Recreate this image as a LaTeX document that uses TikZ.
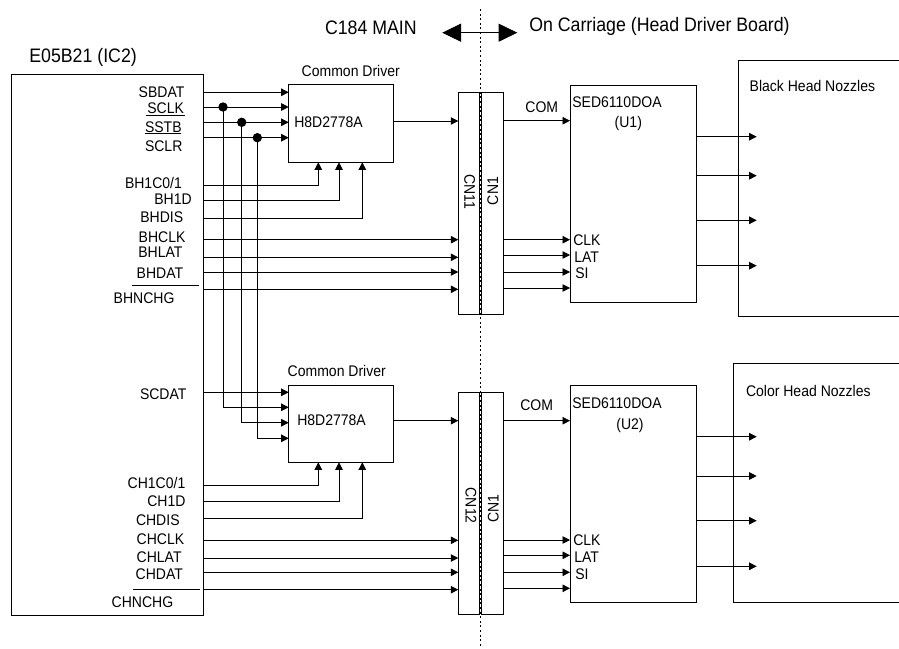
\documentclass[tikz,border=0pt]{standalone}
\usepackage{fontspec}
\setmainfont[FakeStretch=0.91]{Liberation Sans}
\usetikzlibrary{arrows.meta}
\newcommand{\smalltxt}{\fontsize{15.4}{17}\selectfont}
\newcommand{\bigtxt}{\fontsize{19.5}{22}\selectfont}
\begin{document}
\begin{tikzpicture}[x=1pt,y=-1pt,line width=0.8pt,
		box/.style={draw=black,minimum width=#1},
		sig/.style={-{Triangle[length=7.5pt,width=7.5pt]}},
		dot/.style={circle,fill=black,minimum size=9.4pt},
		lbl/.style={anchor=west,font=\smalltxt}]
	\tikzstyle{every node}+=[inner sep=0pt,outer sep=0pt]
	\useasboundingbox (0,0) rectangle (899,648);
	% boxes
	\node [box=192.2pt,minimum height=541.2pt] (ic) at (107.6,345.1) {};
	\node [box=105pt,minimum height=77.6pt] (drvA) at (341.2,123.5) {};
	\node [box=105pt,minimum height=77pt] (drvB) at (341.2,423.8) {};
	\node [box=21.5pt,minimum height=221.7pt] (cnAl) at (469,203.1) {};
	\node [box=22pt,minimum height=221.7pt] (cnAr) at (492,203.1) {};
	\node [box=21.5pt,minimum height=221.7pt] (cnBl) at (469,503.1) {};
	\node [box=22pt,minimum height=221.7pt] (cnBr) at (492,503.1) {};
	\node [box=126pt,minimum height=217.3pt] (uA) at (633,193.6) {};
	\node [box=126pt,minimum height=217.3pt] (uB) at (633,493.6) {};
	% heads are open on the right
	\coordinate (headAtl) at (738.7,60.7);
	\coordinate (headAbl) at (738.7,316.3);
	\coordinate (headBtl) at (733,363.3);
	\coordinate (headBbl) at (733,602.3);
	\draw (headAtl -| 899,0) -- (headAtl) -- (headAbl) -- (headAbl -| 899,0);
	\draw (headBtl -| 899,0) -- (headBtl) -- (headBbl) -- (headBbl -| 899,0);
	% board boundary
	\coordinate (bndtop) at (480.3,9);
	\coordinate (bndbot) at (480.3,648);
	\draw [line width=1.1pt,dash pattern=on 2pt off 2.6pt] (bndtop) -- (bndbot);
	\coordinate (bndl) at (442.3,32.7);
	\coordinate (bndr) at (517.3,32.7);
	\draw [{Triangle[length=18.7pt,width=18pt]}-{Triangle[length=18.7pt,width=18pt]}] (bndl) -- (bndr);
	% big texts
	\node [anchor=west,font=\bigtxt] (ictxt) at (29.3,57.3) {E05B21 (IC2)};
	\node [anchor=west,font=\bigtxt] (maintxt) at (325,28) {C184 MAIN};
	\node [anchor=west,font=\bigtxt] (cartxt) at (529.3,26) {On Carriage (Head Driver Board)};
	% pin names
	\foreach \name/\xpos/\ypos/\txt in {
			sbdat/138.7/91.7/SBDAT, sclk/147.3/107.7/SCLK, sstb/145/126.7/SSTB, sclr/145/145.7/SCLR,
			bhc/125/182.7/{BH1C0/1}, bhd/154.3/198.7/BH1D, bhdis/140.3/216.7/BHDIS,
			bhclk/138.7/236.7/BHCLK, bhlat/138.3/251.7/BHLAT, bhdat/136.7/272.7/BHDAT, bhnchg/113.7/297.7/BHNCHG,
			scdat/140/393.7/SCDAT,
			chc/127.7/482.7/{CH1C0/1}, chd/147.3/500.7/CH1D, chdis/136/519.7/CHDIS,
			chclk/136.7/538.7/CHCLK, chlat/136.7/556.7/CHLAT, chdat/135.7/573.7/CHDAT, chnchg/111.7/601.7/CHNCHG,
			cdA/301.7/70.7/Common Driver, cdB/287.7/370.7/Common Driver,
			hA/294.3/122/H8D2778A, hB/297.3/420/H8D2778A,
			comA/525.4/106.7/COM, comB/520.3/405.3/COM,
			sedA/572.3/101.7/SED6110DOA, sedB/572.3/402.7/SED6110DOA,
			clkA/573.3/240.3/CLK, latA/574.3/257.3/LAT, siA/575.3/273.3/SI,
			clkB/573.3/540.3/CLK, latB/574.3/557.3/LAT, siB/575.3/574.3/SI,
			nozA/749.7/85.7/Black Head Nozzles, nozB/746/390.7/Color Head Nozzles}
		\node [lbl] (\name) at (\xpos,\ypos) {\txt};
	\node [font=\smalltxt] (unoA) at (628.3,123.3) {(U1)};
	\node [font=\smalltxt] (unoB) at (630,426) {(U2)};
	\node [font=\smalltxt,rotate=-90] (cn11) at (469.7,191.7) {CN11};
	\node [font=\smalltxt,rotate=90] (cnA) at (492.7,191) {CN1};
	\node [font=\smalltxt,rotate=-90] (cn12) at (471,505.7) {CN12};
	\node [font=\smalltxt,rotate=90] (cnB) at (493.3,508.3) {CN1};
	% bars over active low pins
	\draw (146,115) -- (185,115);
	\draw (145,133) -- (181,133);
	\draw (132,285) -- (198.7,285);
	\draw (133.3,589.7) -- (200,589.7);
	% shared serial lines
	\foreach \name/\ypos in {pSbdat/92.3,pSclk/107,pSstb/122.3,pSclr/137.7}
		\coordinate (\name) at (203.7,\ypos);
	\draw [sig] (pSbdat) -- (pSbdat -| drvA.west);
	\draw [sig] (pSclk) -- (pSclk -| drvA.west);
	\draw [sig] (pSstb) -- (pSstb -| drvA.west);
	\draw [sig] (pSclr) -- (pSclr -| drvA.west);
	\node [dot] (dotclk) at (223,107) {};
	\node [dot] (dotstb) at (241.7,122.3) {};
	\node [dot] (dotclr) at (257.3,137.7) {};
	\coordinate (pScdat) at (203.7,392.3);
	\draw [sig] (pScdat) -- (pScdat -| drvB.west);
	\coordinate (inclk) at (288.7,407.3);
	\coordinate (instb) at (288.7,422.7);
	\coordinate (inclr) at (288.7,438.3);
	\draw [sig] (dotclk.center) |- (inclk);
	\draw [sig] (dotstb.center) |- (instb);
	\draw [sig] (dotclr.center) |- (inclr);
	% control lines into the common drivers
	\foreach \name/\ypos/\xpos/\drv in {
			pBhc/185/318.3/drvA, pBhd/200.3/339/drvA, pBhdis/218.3/362.3/drvA,
			pChc/485/318.3/drvB, pChd/501/339/drvB, pChdis/518.7/362.3/drvB} {
		\coordinate (\name) at (203.7,\ypos);
		\draw [sig] (\name) -| (\xpos,0 |- \drv.south);
	}
	% lines into the connectors
	\foreach \name/\ypos/\cn in {
			pBhclk/239.7/cnAl, pBhlat/257.3/cnAl, pBhdat/272/cnAl, pBhnchg/289.3/cnAl,
			pChclk/540.3/cnBl, pChlat/558/cnBl, pChdat/572.3/cnBl, pChnchg/589.7/cnBl} {
		\coordinate (\name) at (203.7,\ypos);
		\draw [sig] (\name) -- (\name -| \cn.west);
	}
	% driver outputs
	\coordinate (outA) at (393.7,121);
	\coordinate (outB) at (393.7,420.7);
	\draw [sig] (outA) -- (outA -| cnAl.west);
	\draw [sig] (outB) -- (outB -| cnBl.west);
	% board side lines
	\foreach \name/\ypos/\cn/\ic in {
			cA/120.7/cnAr/uA, cB/255/cnAr/uA, cC/272/cnAr/uA, cD/288/cnAr/uA, cE/239.7/cnAr/uA,
			dA/420.7/cnBr/uB, dB/555.3/cnBr/uB, dC/572.3/cnBr/uB, dD/588.3/cnBr/uB, dE/540/cnBr/uB} {
		\coordinate (\name) at (503,\ypos);
		\draw [sig] (\name) -- (\name -| \ic.west);
	}
	% outputs to the nozzles
	\foreach \name/\ypos/\ic in {
			nA/136.7/uA, nB/175.7/uA, nC/220.3/uA, nD/265.7/uA,
			nE/436.7/uB, nF/476/uB, nG/520.7/uB, nH/566.3/uB} {
		\coordinate (\name) at (756.7,\ypos);
		\draw [sig] (\name -| \ic.east) -- (\name);
	}
\end{tikzpicture}
\end{document}
